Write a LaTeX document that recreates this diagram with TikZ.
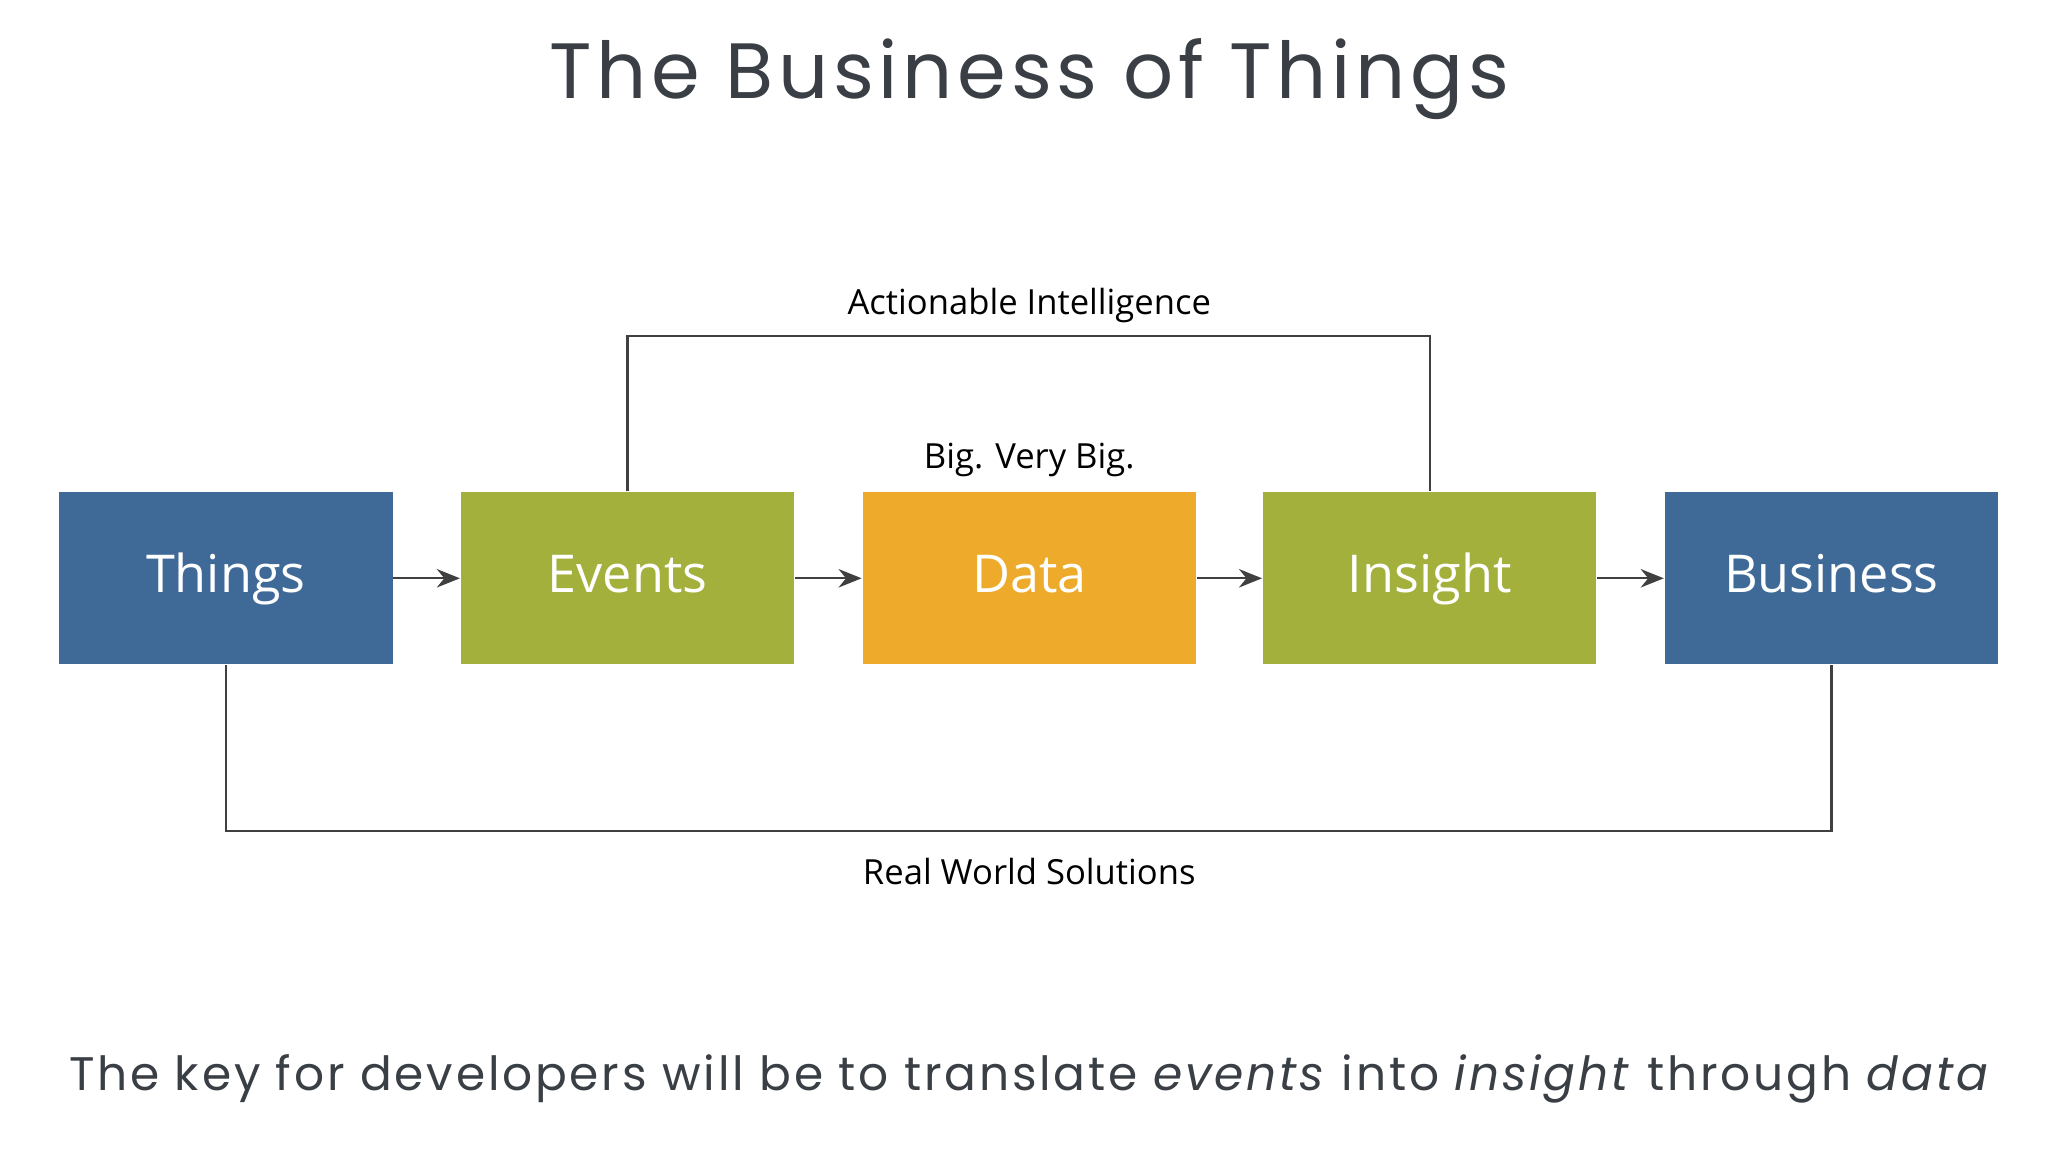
\documentclass[tikz,border=0pt]{standalone}
\usepackage{fontspec}
\setmainfont{Open Sans}
\newfontfamily\geo[LetterSpace=6]{Poppins}
\usetikzlibrary{arrows.meta}
\definecolor{bblue}{HTML}{3F6A98}
\definecolor{bgreen}{HTML}{A4B03C}
\definecolor{borange}{HTML}{EEAA2B}
\definecolor{tgray}{HTML}{3A3F45}
\tikzset{
 box/.style={minimum width=2.54cm,minimum height=1.31cm,inner sep=0pt,text=white,text height=8.5pt,text depth=2.5pt,font=\fontsize{11.3}{13}\selectfont},
 conn/.style={draw=black!75,line width=0.5pt},
 arr/.style={conn,-{Stealth[length=5pt,width=4pt]}},
 lbl/.style={font=\fontsize{7.5}{9}\selectfont,text=black}
}
\begin{document}
\begin{tikzpicture}
\useasboundingbox[fill=white] (0,0) rectangle (15.6,8.775);
\node[box,fill=bblue] (things) at (1.72,4.37) {Things};
\node[box,fill=bgreen] (events) at (4.78,4.37) {Events};
\node[box,fill=borange] (data) at (7.84,4.37) {Data};
\node[box,fill=bgreen] (insight) at (10.89,4.37) {Insight};
\node[box,fill=bblue] (business) at (13.95,4.37) {Business};
\draw[arr] (things) -- (events);
\draw[arr] (events) -- (data);
\draw[arr] (data) -- (insight);
\draw[arr] (insight) -- (business);
\coordinate (t1) at (4.78,6.215);
\coordinate (t2) at (10.89,6.215);
\draw[conn] (events.north) -- (t1) -- (t2) -- (insight.north);
\coordinate (b1) at (1.72,2.445);
\coordinate (b2) at (13.95,2.445);
\draw[conn] (things.south) -- (b1) -- (b2) -- (business.south);
\node[lbl] (ai) at (7.84,6.445) {Actionable Intelligence};
\node[lbl] (big) at (7.84,5.275) {Big. Very Big.};
\node[lbl] (rw) at (7.84,2.135) {Real World Solutions};
\node[font=\geo\fontsize{17}{20}\selectfont,text=tgray] (title) at (7.84,8.17) {The Business of Things};
\node[font=\geo\fontsize{10.2}{13}\selectfont,text=tgray] (sub) at (7.845,0.56) {The key for developers will be to translate \textit{events} into \textit{insight} through \textit{data}};
\end{tikzpicture}
\end{document}
